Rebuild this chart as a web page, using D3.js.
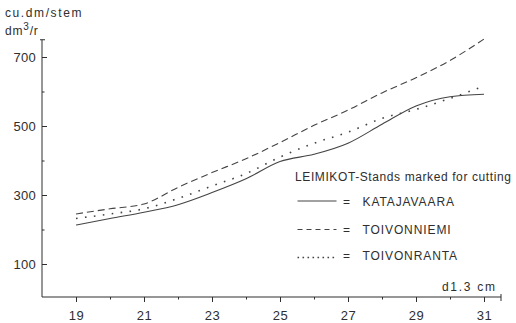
<!DOCTYPE html>
<html><head><meta charset="utf-8">
<script src="https://cdn.jsdelivr.net/npm/d3@7"></script>
<style>
body{margin:0;background:#fff;}
svg{display:block;font-family:"Liberation Sans",Arial,sans-serif;}
</style></head>
<body>
<svg id="c" width="516" height="323"></svg>
<script>
const diameters = [19,20,21,22,23,24,25,26,27,28,29,30,31];
const katajavaara = [213,232,250,272,307,347,397,418,450,505,558,585,592];
const toivonniemi = [245,260,274,322,365,405,452,502,546,596,640,690,752];
const toivonranta = [232,245,260,290,326,362,410,450,482,522,548,580,616];
const seriesNames = ["KATAJAVAARA","TOIVONNIEMI","TOIVONRANTA"];
const xMajor = [19,21,23,25,27,29,31];
const xMinor = [20,22,24,26,28,30];
const yMajor = [100,300,500,700];
const yMinor = [200,400,600];
const legendTitle = "LEIMIKOT-Stands marked for cutting";

const svg = d3.select("#c");
const ink = "#2e2e2e";
const x = d3.scaleLinear().domain([18,31.5]).range([42,501]);
const y = d3.scaleLinear().domain([0,750]).range([298.5,39.75]);
const axisY = 297;

// y axis
const gy = svg.append("g").attr("transform","translate(42,0)");
gy.append("line").attr("x1",0).attr("x2",0).attr("y1",y(750)).attr("y2",axisY).attr("stroke",ink).attr("stroke-width",1);
gy.append("line").attr("x1",-2).attr("x2",3).attr("y1",y(750)).attr("y2",y(750)).attr("stroke",ink);
gy.append("g").call(d3.axisLeft(y).tickValues(yMajor).tickSizeInner(-5).tickSizeOuter(0).tickPadding(6).tickFormat(d3.format("d")))
  .call(g=>g.select(".domain").remove())
  .call(g=>g.selectAll("line").attr("stroke",ink))
  .call(g=>g.selectAll("text").attr("fill",ink).attr("font-size",13).attr("letter-spacing",0.3).attr("font-family","Liberation Sans, Arial, sans-serif"));
gy.append("g").call(d3.axisLeft(y).tickValues(yMinor).tickSizeInner(-2.5).tickSizeOuter(0).tickFormat(""))
  .call(g=>g.select(".domain").remove())
  .call(g=>g.selectAll("line").attr("stroke",ink));

// x axis
const gx = svg.append("g").attr("transform",`translate(0,${axisY})`);
gx.append("line").attr("x1",42).attr("x2",x(31.5)).attr("y1",0).attr("y2",0).attr("stroke",ink);
gx.append("line").attr("x1",x(31.5)).attr("x2",x(31.5)).attr("y1",-3).attr("y2",4).attr("stroke",ink);
gx.append("g").call(d3.axisBottom(x).tickValues(xMajor).tickSizeInner(5).tickSizeOuter(0).tickPadding(9).tickFormat(d3.format("d")))
  .call(g=>g.select(".domain").remove())
  .call(g=>g.selectAll("line").attr("stroke",ink))
  .call(g=>g.selectAll("text").attr("fill",ink).attr("font-size",13).attr("letter-spacing",0.5).attr("font-family","Liberation Sans, Arial, sans-serif"));
gx.append("g").call(d3.axisBottom(x).tickValues(xMinor).tickSizeInner(2.5).tickSizeOuter(0).tickFormat(""))
  .call(g=>g.select(".domain").remove())
  .call(g=>g.selectAll("line").attr("stroke",ink));

// axis titles
svg.append("text").attr("x",5).attr("y",16.5).attr("font-size",12).attr("letter-spacing",1.6).attr("fill",ink).text("cu.dm/stem");
const t2 = svg.append("text").attr("x",5).attr("y",35).attr("font-size",12).attr("letter-spacing",0.8).attr("fill",ink);
t2.append("tspan").text("dm");
t2.append("tspan").attr("dy",-5).attr("font-size",10).text("3");
t2.append("tspan").attr("dy",5).text("/r");
svg.append("text").attr("x",442).attr("y",290.5).attr("font-size",12).attr("letter-spacing",1.7).attr("fill",ink).text("d1.3 cm");

// lines
const styles = [
  {data:katajavaara, dash:null, w:1.1, ldash:null},
  {data:toivonniemi, dash:"7,4", w:1.1, ldash:"5,4"},
  {data:toivonranta, dash:"1.6,7.4", w:1.6, ldash:"1.6,3.4"}
];
const line = d3.line().x((d,i)=>x(diameters[i])).y(d=>y(d)).curve(d3.curveMonotoneX);
styles.forEach(s=>{
  svg.append("path").datum(s.data).attr("d",line).attr("fill","none")
    .attr("stroke","#444").attr("stroke-width",s.w).attr("stroke-dasharray",s.dash);
});

// legend
svg.append("text").attr("x",295).attr("y",181).attr("font-size",12).attr("letter-spacing",0.6).attr("fill",ink).text(legendTitle);
const rowsY = [205.5,234,260];
const lineY = [201,229.5,257.5];
seriesNames.forEach((n,i)=>{
  svg.append("line").attr("x1",297.5).attr("x2",336.5).attr("y1",lineY[i]).attr("y2",lineY[i])
    .attr("stroke","#444").attr("stroke-width",styles[i].w).attr("stroke-dasharray",styles[i].ldash);
  svg.append("text").attr("x",343).attr("y",rowsY[i]).attr("font-size",12).attr("fill",ink).text("=");
  svg.append("text").attr("x",362.5).attr("y",rowsY[i]).attr("font-size",12).attr("fill",ink).attr("letter-spacing",0.9).text(n);
});
</script>
</body></html>
